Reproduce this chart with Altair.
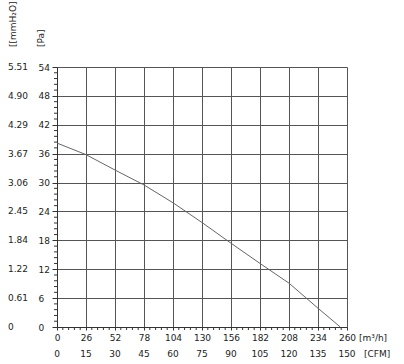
import altair as alt
import pandas as pd

# ---- data ----
flow_m3h = [0, 26, 52, 78, 104, 130, 156, 182, 208, 234, 254]
pressure_pa = [38.2, 35.8, 32.6, 29.5, 25.8, 21.7, 17.4, 13.2, 9.1, 3.9, 0]

pa_ticks = [0, 6, 12, 18, 24, 30, 36, 42, 48, 54]
mmh2o_labels = ["0", "0.61", "1.22", "1.84", "2.45", "3.06", "3.67", "4.29", "4.90", "5.51"]
m3h_ticks = [0, 26, 52, 78, 104, 130, 156, 182, 208, 234, 260]
cfm_labels = ["0", "15", "30", "45", "60", "75", "90", "105", "120", "135", "150"]

# minor tick positions (5 subdivisions between major ticks)
pa_minor = [a + k * 1.2 for a in pa_ticks[:-1] for k in range(1, 5)]
m3h_minor = [a + k * 5.2 for a in m3h_ticks[:-1] for k in range(1, 5)]

FONT = "DejaVu Sans"
FS = 9
TXT = "#222222"
GRID = "#555555"
W, H = 290, 260

curve = pd.DataFrame({"m3h": flow_m3h, "pa": pressure_pa})
ydf = pd.DataFrame({"pa": pa_ticks, "label": mmh2o_labels})
xdf = pd.DataFrame({"m3h": m3h_ticks, "label": cfm_labels})
ymin = pd.DataFrame({"pa": pa_minor})
xmin = pd.DataFrame({"m3h": m3h_minor})
one = pd.DataFrame({"d": [0]})

xs = alt.Scale(domain=[0, 260], nice=False, zero=True)
ys = alt.Scale(domain=[0, 54], nice=False, zero=True)

AX_X = alt.Axis(
    values=m3h_ticks, grid=True, gridColor=GRID, gridOpacity=1, gridWidth=1,
    tickSize=3, tickColor="#333333", domainColor="#333333",
    labelPadding=3, labelFont=FONT, labelFontSize=FS, labelColor=TXT,
    labelFlush=False, labelOverlap=False, title=None)
AX_Y = alt.Axis(
    values=pa_ticks, grid=True, gridColor=GRID, gridOpacity=1, gridWidth=1,
    tickSize=5, tickColor="#333333", domainColor="#333333",
    labelAlign="left", labelBaseline="middle", labelPadding=14,
    labelFont=FONT, labelFontSize=FS, labelColor=TXT,
    labelFlush=False, labelOverlap=False, title=None)

line = alt.Chart(curve).mark_line(color="#666666", strokeWidth=1).encode(
    x=alt.X("m3h:Q", scale=xs, axis=AX_X),
    y=alt.Y("pa:Q", scale=ys, axis=AX_Y),
)

y_minor = alt.Chart(ymin).mark_rule(color="#333333", strokeWidth=1).encode(
    y=alt.Y("pa:Q", scale=ys, axis=AX_Y),
    x=alt.value(-3), x2=alt.value(0),
)
x_minor = alt.Chart(xmin).mark_rule(color="#333333", strokeWidth=1).encode(
    x=alt.X("m3h:Q", scale=xs, axis=AX_X),
    y=alt.value(H), y2=alt.value(H + 3),
)

mm_labels = alt.Chart(ydf).mark_text(
    align="left", baseline="middle", font=FONT, fontSize=FS, color=TXT
).encode(
    y=alt.Y("pa:Q", scale=ys, axis=AX_Y),
    x=alt.value(-49),
    text="label:N",
)

cfm_row = alt.Chart(xdf).mark_text(
    align="center", baseline="middle", font=FONT, fontSize=FS, color=TXT
).encode(
    x=alt.X("m3h:Q", scale=xs, axis=AX_X),
    y=alt.value(287),
    text="label:N",
)

def label(txt, x, y, angle=0, align="left"):
    return alt.Chart(one).mark_text(
        text=txt, align=align, baseline="middle", angle=angle,
        font=FONT, fontSize=FS, color=TXT
    ).encode(x=alt.value(x), y=alt.value(y))

mm_title = label("[[mmH₂O]", -44, -20, angle=270)
pa_title = label("[Pa]", -16, -20, angle=270)
m3h_unit = label("[m³/h]", 302, 271)
cfm_unit = label("[CFM]", 307, 287)

chart = alt.layer(
    line, y_minor, x_minor, mm_labels, cfm_row,
    mm_title, pa_title, m3h_unit, cfm_unit
).properties(
    width=W, height=H,
    autosize=alt.AutoSizeParams(type="none"),
    padding={"left": 57, "top": 67, "right": 57, "bottom": 37},
    background="white",
).configure_view(stroke=None)

chart.save("out.html", embed_options={"renderer": "svg", "actions": False})
